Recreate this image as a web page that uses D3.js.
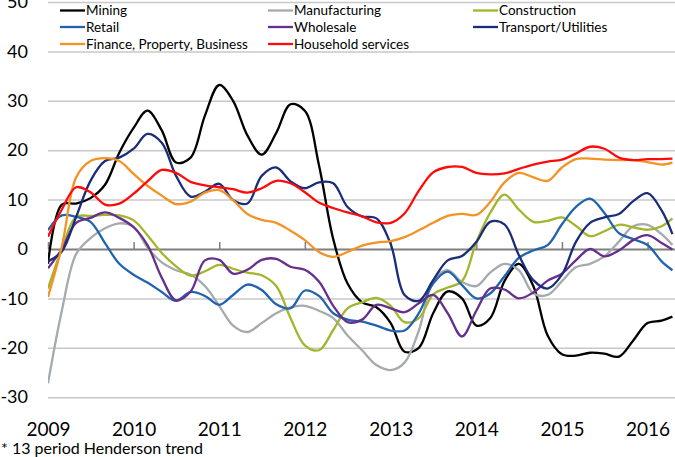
<!DOCTYPE html>
<html>
<head>
<meta charset="utf-8">
<script src="https://cdn.jsdelivr.net/npm/d3@7"></script>
<style>
  body { margin: 0; background: #fff; }
  svg { display: block; }
  text { font-family: Lato, "Open Sans", sans-serif; fill: #000; }
</style>
</head>
<body>
<svg id="chart" width="675" height="457"></svg>
<script>
// bimonthly dates of the trend series
const months = [
  "2009-01-01","2009-03-01","2009-05-01","2009-07-01","2009-09-01","2009-11-01",
  "2010-01-01","2010-03-01","2010-05-01","2010-07-01","2010-09-01","2010-11-01",
  "2011-01-01","2011-03-01","2011-05-01","2011-07-01","2011-09-01","2011-11-01",
  "2012-01-01","2012-03-01","2012-05-01","2012-07-01","2012-09-01","2012-11-01",
  "2013-01-01","2013-03-01","2013-05-01","2013-07-01","2013-09-01","2013-11-01",
  "2014-01-01","2014-03-01","2014-05-01","2014-07-01","2014-09-01","2014-11-01",
  "2015-01-01","2015-03-01","2015-05-01","2015-07-01","2015-09-01","2015-11-01",
  "2016-01-01","2016-03-01","2016-04-16"
]

const mining = [-3, 9, 9.2, 10.3, 13, 19.5, 24.5, 28, 24, 17.5, 18.5, 27, 33.2, 30, 23, 19.1, 23.5, 29.3, 28, 17, 2, -7, -10.8, -11.8, -15, -20.8, -20, -13, -8.6, -10, -15.5, -14, -6.5, -3, -7.5, -17.5, -21.3, -21.6, -21, -21.2, -21.8, -18.5, -15, -14.5, -13.7]
const manufacturing = [-27.2, -12.5, -1, 2.2, 4.2, 5.2, 4.5, 0.3, -2.7, -4.3, -5.2, -7.5, -11.5, -15.5, -16.8, -15, -13, -11.8, -11.5, -12.5, -14, -17.5, -20.5, -23.5, -24.5, -23, -16.5, -6.5, -4.3, -6.7, -7.5, -4.8, -3, -4.3, -9, -9.3, -6.5, -3.7, -3, -1.5, 1.5, 4.6, 4.9, 3, 0.8]
const construction = [-8, 0, 6.5, 6.7, 6.9, 6.8, 5.8, 2.8, -0.8, -3.5, -5.4, -4.5, -3.2, -4, -4.8, -5.3, -7.5, -14, -19.5, -20.5, -16.4, -12, -10.8, -9.9, -11.5, -14.8, -14, -9.2, -7.8, -6.5, 1.4, 7.3, 11, 8, 5.5, 5.7, 6.4, 4.7, 2.6, 3.6, 4.9, 4.4, 3.9, 4.6, 6.2]
const retail = [3.8, 6.8, 6.5, 5.5, 1.2, -3, -5.2, -6.8, -8.7, -10.5, -8.7, -9.5, -11.3, -9.3, -7.2, -8.3, -11.2, -12, -8.4, -9.5, -13, -14.3, -14.7, -15.5, -16.5, -16.5, -13, -7, -4.6, -7.3, -10, -9, -5.5, -1.8, -0.3, 0.8, 5, 8.5, 10.2, 7.3, 3.2, 2, 0.8, -2.5, -4.3]
const wholesale = [-3.9, 0, 5.3, 6.3, 7.4, 6.3, 4.4, 0.8, -5.8, -10.4, -8.6, -2.3, -2.2, -5, -4.2, -2.2, -2, -3.6, -4.2, -6.6, -11.5, -14.8, -14.3, -11.3, -12, -12.8, -11, -9.3, -13, -17.7, -12.5, -8, -8.2, -10, -8.8, -6.4, -5, -2.3, 0, -1.5, -0.3, 1.8, 2.8, 1.2, -0.1]
const transport = [-2.5, -0.5, 6.5, 13.8, 17.8, 18.5, 20.3, 23.3, 21.5, 14.8, 10.6, 11.6, 13.2, 9.9, 9.2, 14.8, 16.5, 13.7, 12.3, 13.5, 13.3, 8.5, 6.6, 6.2, 1, -9.3, -10.5, -6.3, -2.3, -1.4, 1.4, 5.5, 5, -1.2, -6.3, -8, -5.2, 1.4, 5.3, 6.4, 7.1, 9.7, 11.3, 7.8, 3]
const finance = [-9.7, 0.5, 14.5, 17.8, 18.4, 17.8, 15.2, 12.8, 10.8, 9.1, 9.6, 11.4, 11.9, 9.9, 7.1, 5.9, 5.3, 3.7, 1.8, -0.6, -1.6, -0.6, 0.7, 1.3, 1.6, 2.4, 3.8, 5.3, 6.7, 7.1, 6.9, 9.5, 13.5, 15.4, 14.5, 13.8, 16.5, 18.2, 18.3, 18.1, 18, 18, 17.6, 17.1, 17.5]
const household = [2.5, 8, 12.5, 11.5, 9, 9.2, 11.2, 13.7, 16, 15.4, 13.6, 12.9, 12.5, 12.1, 11.4, 12.3, 13.8, 13.3, 11.5, 9.4, 8.3, 7.4, 6.6, 5.4, 5.3, 7.2, 11.8, 15.5, 16.6, 16.6, 15.4, 15.1, 15.3, 16.2, 17.1, 17.7, 18.1, 19.3, 20.7, 20.3, 18.5, 18, 18.2, 18.2, 18.3]

const seriesNames = ["Mining", "Manufacturing", "Construction", "Retail", "Wholesale",
  "Transport/Utilities", "Finance, Property, Business", "Household services"]
const seriesValues = [mining, manufacturing, construction, retail, wholesale, transport, finance, household]
const colors = ["#000000", "#a5aaae", "#a3b52b", "#2263ae", "#672f8c", "#1c2d78", "#f39325", "#ff0a0a"]

const yTicks = [-30, -20, -10, 0, 10, 20, 30, 40, 50]
const yearTicks = ["2009", "2010", "2011", "2012", "2013", "2014", "2015", "2016"]
const footnote = "* 13 period Henderson trend"

const width = 675
const height = 457
const plotLeft = 48
const plotRight = 675

const parseDate = d3.timeParse("%Y-%m-%d")
const parseYear = d3.timeParse("%Y")

const xScale = d3.scaleTime()
  .domain([parseDate("2009-01-01"), parseDate("2016-04-27")])
  .range([plotLeft, plotRight])
const yScale = d3.scaleLinear()
  .domain([-30, 50])
  .range([397.2, 2])

const svg = d3.select("#chart")

svg.append("defs").append("clipPath").attr("id", "plotclip")
  .append("rect")
  .attr("x", plotLeft).attr("y", 0)
  .attr("width", plotRight - plotLeft).attr("height", height)

// gridlines and value labels
svg.append("g")
  .attr("transform", `translate(${plotLeft},0)`)
  .call(d3.axisLeft(yScale).tickValues(yTicks).tickSize(-(plotRight - plotLeft)).tickPadding(20).tickFormat(d => String(d)))
  .call(g => g.select(".domain").remove())
  .call(g => g.selectAll(".tick line")
    .attr("stroke", "#c8c8c8").attr("stroke-width", 1.5)
    .attr("opacity", d => d === 0 ? 0 : 1))
  .call(g => g.selectAll(".tick text")
    .attr("font-size", 18).attr("fill", "#000"))

// zero line with year ticks pointing up
svg.append("g")
  .attr("transform", `translate(0,${yScale(0)})`)
  .call(d3.axisTop(xScale).tickValues(yearTicks.map(parseYear)).tickSize(7).tickSizeOuter(0).tickFormat(""))
  .call(g => g.select(".domain").attr("stroke", "#7f7f7f").attr("stroke-width", 2))
  .call(g => g.selectAll(".tick line").attr("stroke", "#7f7f7f").attr("stroke-width", 1.5))

// year labels along the bottom
svg.append("g")
  .attr("transform", "translate(0,417)")
  .call(d3.axisBottom(xScale).tickValues(yearTicks.map(parseYear)).tickSize(0).tickPadding(5).tickFormat(d3.timeFormat("%Y")))
  .call(g => g.select(".domain").remove())
  .call(g => g.selectAll(".tick text").attr("font-size", 19).attr("fill", "#000"))

// lines
const dates = months.map(parseDate)
const line = d3.line()
  .x((d, i) => xScale(dates[i]))
  .y(d => yScale(d))
  .curve(d3.curveCatmullRom.alpha(0.5))

svg.append("g")
  .attr("clip-path", "url(#plotclip)")
  .selectAll("path")
  .data(seriesValues)
  .join("path")
  .attr("d", d => line(d))
  .attr("fill", "none")
  .attr("stroke", (d, i) => colors[i])
  .attr("stroke-width", 2.3)
  .attr("stroke-linejoin", "round")

// legend, three columns
const legendCols = [60, 268, 473]
const legendRows = [10.5, 27, 44]
const legend = svg.append("g")
  .selectAll("g")
  .data(seriesNames)
  .join("g")
  .attr("transform", (d, i) => `translate(${legendCols[i % 3]},${legendRows[Math.floor(i / 3)]})`)

legend.append("line")
  .attr("x1", 0).attr("x2", 25)
  .attr("stroke", (d, i) => colors[i])
  .attr("stroke-width", 2.3)

legend.append("text")
  .attr("x", 26)
  .attr("dy", "0.35em")
  .attr("font-size", 13.5)
  .text(d => d)

svg.append("text")
  .attr("x", 1)
  .attr("y", 454)
  .attr("font-size", 16)
  .text(footnote)
</script>
</body>
</html>
